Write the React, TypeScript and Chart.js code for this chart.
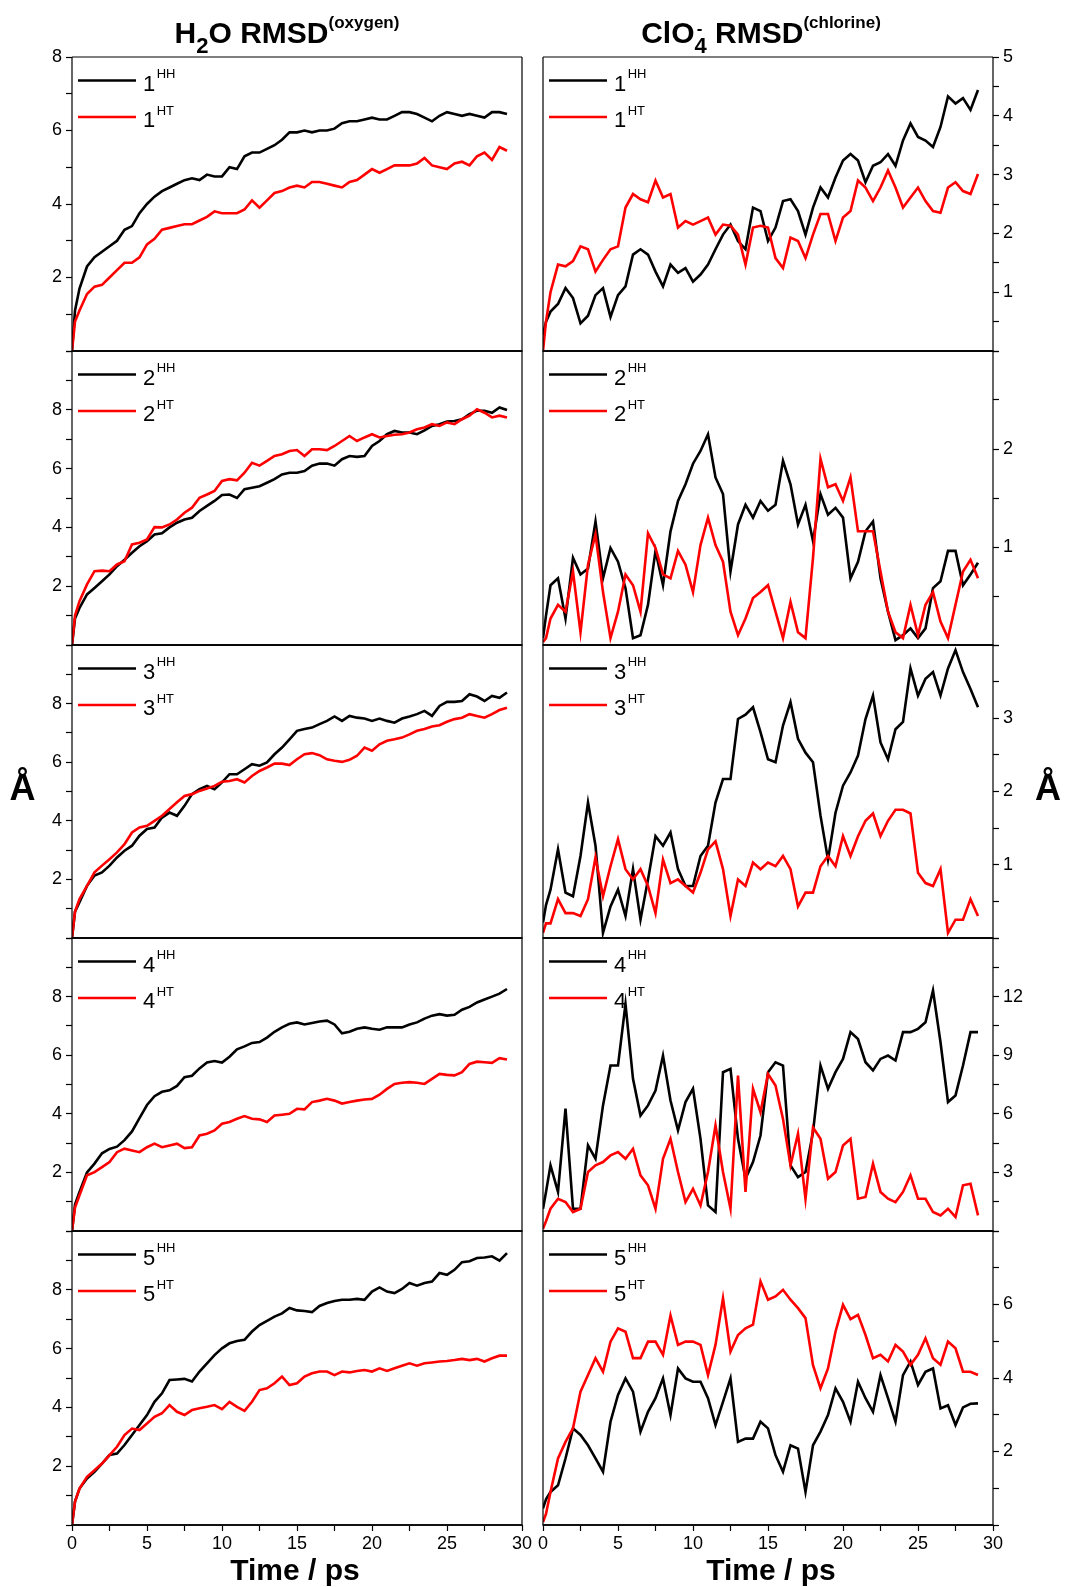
import React, { useEffect, useRef } from 'react';
import { Chart, registerables } from 'chart.js';
Chart.register(...registerables);

// ---------- data ----------
const time = [0,0.2,0.5,1,1.5,2,2.5,3,3.5,4,4.5,5,5.5,6,6.5,7,7.5,8,8.5,9,9.5,10,10.5,11,11.5,12,12.5,13,13.5,14,14.5,15,15.5,16,16.5,17,17.5,18,18.5,19,19.5,20,20.5,21,21.5,22,22.5,23,23.5,24,24.5,25,25.5,26,26.5,27,27.5,28,28.5,29];

// H2O RMSD (oxygen)
const h1HH = [0,1.1,1.7,2.3,2.55,2.7,2.85,3.0,3.3,3.4,3.75,4.0,4.2,4.35,4.45,4.55,4.65,4.7,4.65,4.8,4.75,4.75,5.0,4.95,5.3,5.4,5.4,5.5,5.6,5.75,5.95,5.95,6.0,5.95,6.0,6.0,6.05,6.2,6.25,6.25,6.3,6.35,6.3,6.3,6.4,6.5,6.5,6.45,6.35,6.25,6.4,6.5,6.45,6.4,6.45,6.4,6.35,6.5,6.5,6.45];
const h1HT = [0,0.8,1.1,1.55,1.75,1.8,2.0,2.2,2.4,2.4,2.55,2.9,3.05,3.3,3.35,3.4,3.45,3.45,3.55,3.65,3.8,3.75,3.75,3.75,3.85,4.1,3.9,4.1,4.3,4.35,4.45,4.5,4.45,4.6,4.6,4.55,4.5,4.45,4.6,4.65,4.8,4.95,4.85,4.95,5.05,5.05,5.05,5.1,5.25,5.05,5.0,4.95,5.1,5.15,5.05,5.3,5.4,5.2,5.55,5.45];
const h2HH = [0,0.9,1.26,1.72,1.94,2.17,2.4,2.68,2.9,3.14,3.36,3.53,3.76,3.8,4.0,4.16,4.27,4.33,4.56,4.73,4.9,5.1,5.12,5.0,5.3,5.35,5.4,5.52,5.64,5.8,5.86,5.86,5.92,6.1,6.17,6.17,6.1,6.32,6.43,6.4,6.43,6.77,6.94,7.17,7.28,7.23,7.23,7.17,7.3,7.45,7.51,7.6,7.62,7.68,7.85,7.97,7.97,7.9,8.08,7.99];
const h2HT = [0,1.0,1.49,2.06,2.51,2.53,2.51,2.74,2.85,3.42,3.48,3.59,4.01,4.0,4.1,4.27,4.5,4.67,5.01,5.12,5.24,5.58,5.64,5.6,5.86,6.2,6.1,6.26,6.43,6.49,6.6,6.63,6.43,6.66,6.66,6.63,6.77,6.94,7.11,6.94,7.06,7.17,7.06,7.11,7.15,7.17,7.23,7.34,7.4,7.51,7.45,7.57,7.51,7.68,7.8,8.02,7.9,7.74,7.8,7.74];
const h3HH = [0,0.9,1.22,1.78,2.13,2.24,2.47,2.75,2.98,3.15,3.49,3.72,3.77,4.11,4.28,4.17,4.51,4.91,5.08,5.19,5.08,5.31,5.59,5.59,5.76,5.93,5.88,5.99,6.27,6.5,6.78,7.07,7.13,7.18,7.3,7.41,7.56,7.41,7.58,7.52,7.49,7.41,7.49,7.41,7.35,7.49,7.56,7.64,7.75,7.58,7.92,8.06,8.06,8.09,8.32,8.24,8.09,8.26,8.2,8.38];
const h3HT = [0,0.9,1.33,1.78,2.24,2.47,2.69,2.92,3.2,3.6,3.77,3.83,4.0,4.17,4.4,4.63,4.85,4.91,5.02,5.1,5.19,5.33,5.36,5.42,5.31,5.53,5.7,5.82,5.95,5.95,5.9,6.1,6.27,6.31,6.24,6.1,6.05,6.01,6.08,6.22,6.5,6.39,6.61,6.73,6.78,6.84,6.95,7.07,7.13,7.22,7.26,7.38,7.47,7.52,7.64,7.58,7.52,7.64,7.78,7.86];
const h4HH = [0,0.9,1.33,2.0,2.3,2.65,2.8,2.88,3.1,3.4,3.85,4.3,4.6,4.75,4.8,4.95,5.25,5.3,5.55,5.75,5.8,5.75,5.95,6.2,6.3,6.42,6.45,6.6,6.8,6.95,7.07,7.12,7.05,7.1,7.15,7.18,7.05,6.75,6.8,6.9,6.95,6.9,6.87,6.95,6.95,6.95,7.05,7.12,7.25,7.35,7.4,7.35,7.38,7.55,7.65,7.8,7.9,8.0,8.1,8.26];
const h4HT = [0,0.8,1.22,1.9,2.01,2.18,2.35,2.69,2.81,2.75,2.69,2.86,2.98,2.86,2.92,2.98,2.83,2.86,3.26,3.32,3.43,3.66,3.72,3.83,3.92,3.83,3.81,3.72,3.94,3.97,4.0,4.17,4.15,4.4,4.45,4.51,4.45,4.35,4.4,4.45,4.49,4.51,4.65,4.85,5.02,5.06,5.08,5.06,5.02,5.19,5.36,5.33,5.31,5.42,5.7,5.78,5.76,5.74,5.9,5.85];
const h5HH = [0,0.8,1.24,1.58,1.81,2.09,2.38,2.43,2.72,3.06,3.4,3.74,4.19,4.48,4.93,4.95,4.97,4.88,5.22,5.5,5.78,6.01,6.18,6.26,6.3,6.58,6.8,6.94,7.09,7.2,7.38,7.3,7.28,7.24,7.45,7.55,7.62,7.66,7.66,7.69,7.66,7.94,8.08,7.94,7.89,8.03,8.23,8.14,8.23,8.28,8.57,8.51,8.68,8.94,8.97,9.08,9.1,9.14,8.99,9.25];
const h5HT = [0,0.8,1.24,1.64,1.86,2.09,2.38,2.66,3.06,3.28,3.23,3.45,3.68,3.8,4.08,3.85,3.74,3.91,3.97,4.02,4.08,3.94,4.19,4.02,3.88,4.19,4.59,4.65,4.82,5.05,4.76,4.82,5.05,5.16,5.22,5.22,5.1,5.22,5.19,5.24,5.27,5.22,5.33,5.24,5.33,5.42,5.5,5.42,5.5,5.53,5.56,5.58,5.61,5.65,5.61,5.65,5.56,5.67,5.76,5.76];

// ClO4- RMSD (chlorine)
const c1HH = [0.27,0.5,0.67,0.8,1.07,0.9,0.47,0.6,0.95,1.07,0.58,0.95,1.1,1.64,1.73,1.64,1.35,1.1,1.47,1.33,1.41,1.18,1.3,1.47,1.73,1.98,2.15,1.87,1.73,2.44,2.38,1.87,2.1,2.55,2.58,2.38,1.98,2.44,2.78,2.61,2.95,3.24,3.35,3.24,2.87,3.15,3.21,3.35,3.15,3.58,3.87,3.64,3.58,3.47,3.81,4.33,4.21,4.3,4.1,4.44];
const c1HT = [0,0.5,1.0,1.47,1.44,1.53,1.78,1.73,1.35,1.55,1.73,1.78,2.44,2.67,2.58,2.53,2.9,2.61,2.67,2.1,2.21,2.15,2.21,2.27,1.98,2.15,2.13,1.98,1.47,2.1,2.13,2.1,1.58,1.41,1.93,1.87,1.58,1.98,2.33,2.33,1.87,2.27,2.38,2.9,2.78,2.55,2.78,3.07,2.78,2.44,2.61,2.78,2.55,2.38,2.35,2.78,2.87,2.72,2.67,3.01];
const c2HH = [0.07,0.3,0.61,0.68,0.27,0.89,0.72,0.78,1.26,0.68,0.99,0.85,0.58,0.07,0.1,0.41,0.96,0.61,1.16,1.47,1.64,1.85,1.98,2.15,1.71,1.54,0.75,1.23,1.43,1.3,1.47,1.37,1.43,1.88,1.64,1.23,1.43,1.06,1.54,1.33,1.4,1.3,0.68,0.85,1.16,1.26,0.68,0.34,0.05,0.1,0.17,0.07,0.17,0.58,0.65,0.96,0.96,0.61,0.72,0.84];
const c2HT = [0.03,0.07,0.27,0.41,0.34,0.75,0.13,0.82,1.13,0.54,0.07,0.34,0.72,0.61,0.34,1.14,0.99,0.72,0.68,0.96,0.82,0.54,1.02,1.3,1.02,0.85,0.34,0.1,0.27,0.48,0.54,0.61,0.34,0.07,0.44,0.13,0.07,0.89,1.9,1.61,1.64,1.47,1.71,1.16,1.16,1.16,0.75,0.34,0.13,0.07,0.41,0.1,0.41,0.54,0.24,0.07,0.41,0.75,0.87,0.68];
const c3HH = [0.21,0.45,0.66,1.21,0.62,0.57,1.12,1.85,1.26,0.07,0.43,0.66,0.3,0.94,0.25,0.8,1.39,1.26,1.44,0.94,0.71,0.71,1.12,1.26,1.85,2.17,2.17,2.99,3.05,3.15,2.81,2.44,2.4,2.9,3.22,2.72,2.53,2.4,1.67,1.07,1.71,2.08,2.26,2.49,2.99,3.31,2.67,2.44,2.85,2.95,3.68,3.31,3.54,3.63,3.31,3.68,3.93,3.63,3.4,3.15];
const c3HT = [0.07,0.2,0.2,0.53,0.34,0.34,0.3,0.53,1.1,0.57,0.98,1.35,0.94,0.8,0.94,0.71,0.34,1.07,0.75,0.8,0.71,0.62,0.89,1.21,1.32,0.94,0.3,0.8,0.71,1.03,0.94,1.03,0.98,1.12,0.94,0.43,0.62,0.62,0.98,1.12,0.98,1.39,1.12,1.39,1.6,1.7,1.39,1.6,1.75,1.75,1.7,0.89,0.75,0.71,0.94,0.07,0.25,0.25,0.53,0.3];
const c4HH = [1.14,2.0,3.36,2.0,6.26,1.14,1.14,4.38,3.7,6.43,8.47,8.47,11.62,7.79,5.91,6.43,7.19,8.98,6.68,5.15,6.6,7.28,4.72,1.31,0.97,8.13,8.3,4.72,2.68,3.53,4.89,8.13,8.64,8.47,3.36,2.76,3.02,5.06,8.47,7.28,8.13,8.81,10.18,9.83,8.64,8.22,8.81,8.98,8.73,10.18,10.18,10.35,10.69,12.31,9.66,6.6,6.94,8.47,10.18,10.18];
const c4HT = [0.12,0.5,1.14,1.65,1.48,0.97,1.14,3.02,3.36,3.53,3.87,4.04,3.7,4.21,2.85,2.34,1.14,3.7,4.72,3.02,1.48,2.16,1.31,3.02,5.4,3.02,1.14,7.96,2.0,7.28,6.08,8.04,7.45,5.74,3.36,4.98,1.65,5.3,4.72,2.68,3.02,4.38,4.72,1.65,1.74,3.44,2.0,1.65,1.48,2.0,2.85,1.65,1.65,0.97,0.8,1.14,0.72,2.34,2.42,0.8];
const c5HH = [0.45,0.7,0.9,1.08,1.81,2.63,2.45,2.17,1.81,1.45,2.81,3.54,3.99,3.63,2.54,3.08,3.45,3.99,2.99,4.26,3.99,3.9,3.9,3.45,2.72,3.35,3.99,2.26,2.35,2.35,2.81,2.63,1.9,1.45,2.17,2.08,0.9,2.17,2.54,2.99,3.72,3.35,2.81,3.9,3.45,3.08,4.08,3.45,2.81,4.08,4.45,3.81,4.17,4.26,3.17,3.26,2.72,3.2,3.3,3.31];
const c5HT = [0.08,0.3,0.9,1.81,2.26,2.63,3.63,4.08,4.54,4.17,4.99,5.35,5.26,4.54,4.54,4.99,4.99,4.63,5.7,4.9,4.99,4.99,4.9,4.08,4.9,6.17,4.72,5.17,5.35,5.45,6.63,6.13,6.22,6.4,6.13,5.9,5.63,4.35,3.72,4.26,5.26,5.99,5.6,5.72,5.17,4.54,4.63,4.45,4.9,4.72,4.36,4.63,5.08,4.54,4.36,4.99,4.81,4.17,4.17,4.08];

// axis ranges and tick labels
const waterMax = [8, 10, 10, 10, 10];
const waterMinor = [1, 1, 1, 1, 1];
const waterLabels = [[2, 4, 6, 8], [2, 4, 6, 8], [2, 4, 6, 8], [2, 4, 6, 8], [2, 4, 6, 8]];
const chlorMax = [5, 3, 4, 15, 8];
const chlorMinor = [0.5, 0.5, 0.5, 1.5, 1];
const chlorLabels = [[1, 2, 3, 4, 5], [1, 2], [1, 2, 3], [3, 6, 9, 12], [2, 4, 6]];
const xLabels = [0, 5, 10, 15, 20, 25, 30];
const legendNums = ['1', '2', '3', '4', '5'];
const waterHH = [h1HH, h2HH, h3HH, h4HH, h5HH];
const waterHT = [h1HT, h2HT, h3HT, h4HT, h5HT];
const chlorHH = [c1HH, c2HH, c3HH, c4HH, c5HH];
const chlorHT = [c1HT, c2HT, c3HT, c4HT, c5HT];

// ---------- layout ----------
const FONT = '"Liberation Sans", Arial, Helvetica, sans-serif';
const colLeft = [72, 543];
const plotW = 450;
const rowTop = [57, 351, 645, 938, 1231];
const rowBot = [351, 645, 938, 1231, 1525];
const AXW = 50;
const SIDE = 16;
const VPAD = 12;
const XAXH = 40;

const framePlugin = {
  id: 'frame',
  afterDraw(chart: any) {
    const { ctx, chartArea: a } = chart;
    ctx.save();
    ctx.strokeStyle = '#000';
    ctx.lineWidth = 1.2;
    ctx.beginPath();
    ctx.moveTo(a.left, a.top); ctx.lineTo(a.right, a.top);
    ctx.moveTo(a.left, a.top); ctx.lineTo(a.left, a.bottom);
    ctx.moveTo(a.right, a.top); ctx.lineTo(a.right, a.bottom);
    ctx.stroke();
    ctx.lineWidth = 1.8;
    ctx.strokeStyle = '#111';
    ctx.beginPath();
    ctx.moveTo(a.left - 0.5, a.bottom); ctx.lineTo(a.right + 0.5, a.bottom);
    ctx.stroke();
    // legend
    const num = chart.options.plugins.panelLegend.num;
    const items = [{ c: '#000000', s: 'HH' }, { c: '#ff0000', s: 'HT' }];
    items.forEach((it, i) => {
      const y = a.top + 23.5 + i * 36.5;
      ctx.strokeStyle = it.c;
      ctx.lineWidth = 2.4;
      ctx.beginPath();
      ctx.moveTo(a.left + 6, y); ctx.lineTo(a.left + 64, y);
      ctx.stroke();
      ctx.fillStyle = '#000';
      ctx.textBaseline = 'alphabetic';
      ctx.textAlign = 'left';
      ctx.font = '22px ' + FONT;
      ctx.fillText(num, a.left + 71, y + 10);
      const w = ctx.measureText(num).width;
      ctx.font = '13px ' + FONT;
      ctx.fillText(it.s, a.left + 71 + w + 1.5, y - 2.5);
    });
    ctx.restore();
  },
};

function Panel({ col, row }: { col: number; row: number }) {
  const ref = useRef<HTMLCanvasElement>(null);
  const isBottom = row === 4;
  const H = rowBot[row] - rowTop[row];
  const cw = AXW + plotW + SIDE;
  const ch = VPAD + H + (isBottom ? XAXH : VPAD);
  const cx = col === 0 ? colLeft[0] - AXW : colLeft[1] - SIDE;
  const cy = rowTop[row] - VPAD;

  useEffect(() => {
    const hh = col === 0 ? waterHH[row] : chlorHH[row];
    const ht = col === 0 ? waterHT[row] : chlorHT[row];
    const yMax = col === 0 ? waterMax[row] : chlorMax[row];
    const yStep = col === 0 ? waterMinor[row] : chlorMinor[row];
    const yLab = col === 0 ? waterLabels[row] : chlorLabels[row];
    const tickFont = { family: FONT, size: 18 };
    const chart = new Chart(ref.current as HTMLCanvasElement, {
      type: 'line',
      data: {
        datasets: [
          {
            data: time.map((t, i) => ({ x: t, y: hh[i] })),
            borderColor: '#000000',
            borderWidth: 2.6,
            pointRadius: 0,
            tension: 0,
            fill: false,
            order: 1,
          },
          {
            data: time.map((t, i) => ({ x: t, y: ht[i] })),
            borderColor: '#ff0000',
            borderWidth: 2.6,
            pointRadius: 0,
            tension: 0,
            fill: false,
            order: 0,
          },
        ],
      },
      options: {
        responsive: false,
        animation: false,
        events: [],
        layout: {
          padding: {
            left: col === 0 ? 0 : SIDE,
            right: col === 0 ? SIDE : 0,
            top: VPAD,
            bottom: isBottom ? 0 : VPAD,
          },
        },
        plugins: {
          legend: { display: false },
          tooltip: { enabled: false },
          panelLegend: { num: legendNums[row] },
        } as any,
        scales: {
          x: {
            type: 'linear',
            min: 0,
            max: 30,
            display: isBottom,
            position: 'bottom',
            ticks: {
              stepSize: 2.5,
              autoSkip: false,
              maxRotation: 0,
              color: '#000',
              font: tickFont,
              padding: 2,
              callback: (v: any) => (xLabels.some((l) => Math.abs(l - v) < 1e-6) ? String(v) : ''),
            },
            grid: { display: true, drawOnChartArea: false, drawTicks: true, tickLength: 6, tickColor: '#000', tickWidth: 1.2 },
            border: { display: false },
            afterFit: (s: any) => {
              if (isBottom) s.height = XAXH;
              s.paddingLeft = 0; s.paddingRight = 0;
            },
          },
          y: {
            type: 'linear',
            min: 0,
            max: yMax,
            position: col === 0 ? 'left' : 'right',
            ticks: {
              stepSize: yStep,
              autoSkip: false,
              color: '#000',
              font: tickFont,
              padding: 4,
              callback: (v: any) => (yLab.some((l) => Math.abs(l - v) < 1e-6) ? String(v) : ''),
            },
            grid: { display: true, drawOnChartArea: false, drawTicks: true, tickLength: 6, tickColor: '#000', tickWidth: 1.2 },
            border: { display: false },
            afterFit: (s: any) => { s.width = AXW; s.paddingTop = 0; s.paddingBottom = 0; },
          },
        } as any,
      },
      plugins: [framePlugin],
    });
    return () => chart.destroy();
  }, []);

  return (
    <canvas
      ref={ref}
      width={cw}
      height={ch}
      style={{ position: 'absolute', left: cx, top: cy, width: cw, height: ch }}
    />
  );
}

function Label({ x, baseline, size, children, bold = true }: any) {
  return (
    <div
      style={{
        position: 'absolute',
        left: x,
        top: baseline - 0.8465 * size,
        transform: 'translateX(-50%)',
        fontSize: size,
        lineHeight: `${size}px`,
        fontWeight: bold ? 'bold' : 'normal',
        whiteSpace: 'nowrap',
        fontFamily: FONT,
        color: '#000',
      }}
    >
      {children}
    </div>
  );
}

export default function App() {
  const panels = [];
  for (let r = 0; r < 5; r++) for (let c = 0; c < 2; c++) panels.push(<Panel key={`${c}-${r}`} col={c} row={r} />);
  return (
    <div style={{ position: 'absolute', left: 0, top: 0, width: 1065, height: 1587, background: '#fff', overflow: 'hidden', fontFamily: FONT }}>
      {panels}
      <Label x={287} baseline={43} size={30}>
        H<span style={{ fontSize: 22, position: 'relative', top: 10 }}>2</span>O RMSD
        <span style={{ fontSize: 17, position: 'relative', top: -15 }}>(oxygen)</span>
      </Label>
      <Label x={761} baseline={43} size={30}>
        ClO<span style={{ fontSize: 22, position: 'relative', top: 10 }}>4</span>
        <span style={{ fontSize: 17, position: 'relative', top: -9, marginLeft: -10, marginRight: 4.3 }}>-</span> RMSD
        <span style={{ fontSize: 17, position: 'relative', top: -15 }}>(chlorine)</span>
      </Label>
      <Label x={295} baseline={1580} size={30}>Time / ps</Label>
      <Label x={771} baseline={1580} size={30}>Time / ps</Label>
      <Label x={22.5} baseline={800} size={36}>Å</Label>
      <Label x={1048} baseline={800} size={36}>Å</Label>
    </div>
  );
}
